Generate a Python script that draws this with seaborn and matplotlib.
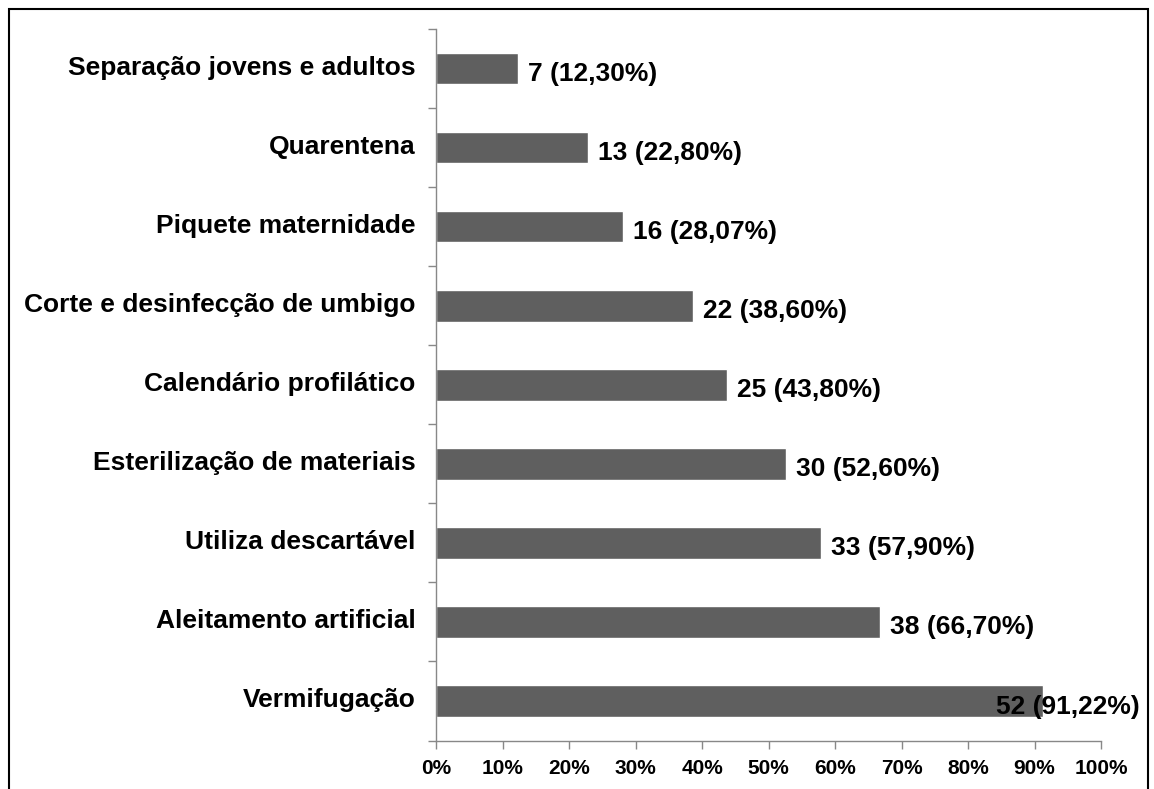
import matplotlib
matplotlib.use("Agg")
import matplotlib.pyplot as plt
import matplotlib.transforms as mtransforms
import seaborn as sns
import pandas as pd
from matplotlib.patches import Rectangle

# Data
categorias = [
    "Separação jovens e adultos",
    "Quarentena",
    "Piquete maternidade",
    "Corte e desinfecção de umbigo",
    "Calendário profilático",
    "Esterilização de materiais",
    "Utiliza descartável",
    "Aleitamento artificial",
    "Vermifugação",
]
contagens = [7, 13, 16, 22, 25, 30, 33, 38, 52]
percentuais = [12.30, 22.80, 28.07, 38.60, 43.80, 52.60, 57.90, 66.70, 91.22]
rotulos = ["7 (12,30%)", "13 (22,80%)", "16 (28,07%)", "22 (38,60%)", "25 (43,80%)",
           "30 (52,60%)", "33 (57,90%)", "38 (66,70%)", "52 (91,22%)"]

df = pd.DataFrame({"Prática": categorias, "Percentual": percentuais})

sns.set_style("white", {"xtick.bottom": True, "ytick.left": True,
                        "text.color": "black", "xtick.color": "#888888",
                        "ytick.color": "#888888"})
plt.rcParams["font.family"] = ["Liberation Sans", "DejaVu Sans"]
plt.rcParams["font.weight"] = "bold"

fig = plt.figure(figsize=(11.54, 7.89), dpi=100)
ax = fig.add_axes([436 / 1154, 1 - 740.5 / 789, 665 / 1154, (740.5 - 29) / 789])

sns.barplot(data=df, y="Prática", x="Percentual", orient="h", color="#5f5f5f",
            saturation=1, width=0.4, ax=ax)

ax.set_xlim(0, 100)
ax.set_ylim(len(categorias) - 0.5, -0.5)
ax.set_xticks(range(0, 101, 10))
ax.set_xticklabels([f"{v}%" for v in range(0, 101, 10)], fontsize=15,
                   fontweight="bold", color="black")
ax.set_yticks(range(len(categorias)))
ax.set_yticklabels(categorias, fontsize=19, fontweight="bold", color="black")
ax.set_yticks([i + 0.5 for i in range(-1, len(categorias))], minor=True)
ax.tick_params(axis="y", which="major", length=0, pad=14.5)
ax.tick_params(axis="y", which="minor", left=True, length=6, color="#888888", width=1)
ax.tick_params(axis="x", bottom=True, length=6, color="#888888", width=1, pad=7)
ax.set_xlabel("")
ax.set_ylabel("")

# nudge category labels up a little
shift = mtransforms.ScaledTranslation(0, 3 / 100, fig.dpi_scale_trans)
for lbl in ax.get_yticklabels():
    lbl.set_transform(lbl.get_transform() + shift)

for s in ["top", "right"]:
    ax.spines[s].set_visible(False)
for s in ["left", "bottom"]:
    ax.spines[s].set_color("#888888")
    ax.spines[s].set_linewidth(1)

for i, (p, r) in enumerate(zip(percentuais, rotulos)):
    if i == len(percentuais) - 1:
        ax.text(105.9, i + 0.07, r, ha="right", va="center", fontsize=19,
                fontweight="bold", color="black", clip_on=False)
    else:
        ax.text(p + 1.5, i + 0.07, r, ha="left", va="center", fontsize=19,
                fontweight="bold", color="black")

# Outer frame around the figure
fig.patches.append(Rectangle((9 / 1154, -0.05), (1148 - 9) / 1154, 1.05 - 9 / 789,
                             transform=fig.transFigure, fill=False,
                             edgecolor="black", linewidth=1.5))

fig.savefig("out.png", dpi=100)
